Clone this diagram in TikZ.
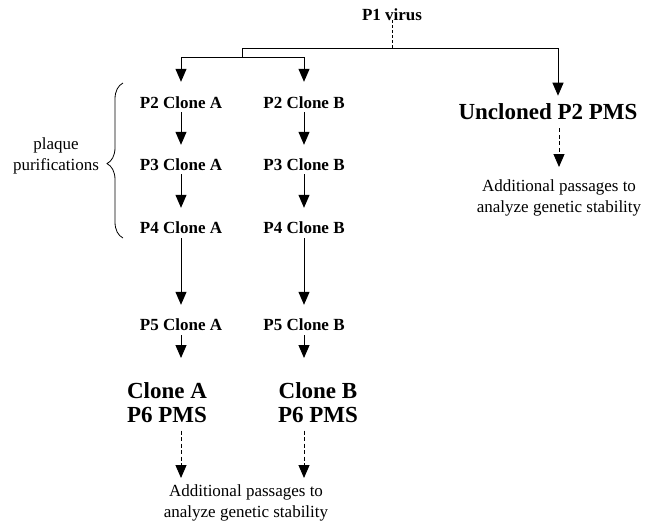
\documentclass[tikz,border=0pt]{standalone}
\usepackage{fontspec}
\setmainfont{Liberation Serif}
\usetikzlibrary{arrows.meta,decorations.pathreplacing,calc}
\begin{document}
\begin{tikzpicture}[x=1pt,y=-1pt,
 lbl/.style={font=\fontsize{17}{20}\selectfont\bfseries, inner sep=0pt, text height=12pt, text depth=0pt},
 big/.style={font=\fontsize{23}{24}\selectfont\bfseries, inner sep=0pt, align=center},
 note/.style={font=\fontsize{17}{21}\selectfont, inner sep=0pt, align=center},
 conn/.style={line width=1pt},
 arr/.style={conn, -{Triangle[width=11pt,length=13pt]}},
 darr/.style={arr, dash pattern=on 4pt off 2.5pt},
 bracestyle/.style={line width=0.8pt, decorate, decoration={brace, amplitude=16pt, aspect=0.48}}]
\useasboundingbox (0,0) rectangle (650,523);

% top
\node[lbl] (p1) at (392,14) {P1 virus};
\coordinate (j0) at (392,48);
\coordinate (jl) at (242,48);
\coordinate (jr) at (558,48);
\coordinate (jl2) at (242,57);
\coordinate (ja) at (181,57);
\coordinate (jb) at (304,57);

% clone columns
\node[lbl] (p2a) at (181,102) {P2 Clone A};
\node[lbl] (p2b) at (304,102) {P2 Clone B};
\node[lbl] (p3a) at (181,164) {P3 Clone A};
\node[lbl] (p3b) at (304,164) {P3 Clone B};
\node[lbl] (p4a) at (181,227) {P4 Clone A};
\node[lbl] (p4b) at (304,227) {P4 Clone B};
\node[lbl] (p5a) at (181,324) {P5 Clone A};
\node[lbl] (p5b) at (304,324) {P5 Clone B};
\node[big, anchor=north] (cla) at (167,382) {Clone A\\P6 PMS};
\node[big, anchor=north] (clb) at (318,382) {Clone B\\P6 PMS};
\node[note, anchor=north] (addl) at (246,484) {Additional passages to\\analyze genetic stability};

% uncloned
\node[big] (unc) at (548,112) {Uncloned P2 PMS};
\node[note, anchor=north] (addr) at (559,179) {Additional passages to\\analyze genetic stability};

% brace
\node[note] (plq) at (56,156) {plaque\\purifications};
\coordinate (brb) at (123,238);
\coordinate (brt) at (123,83);
\draw[bracestyle] (brb) -- (brt);

% connectors top
\draw[conn, line width=0.6pt, densely dashed] (p1.south) -- (j0);
\draw[conn] (jl) -- (jr);
\draw[conn] (jl) -- (jl2);
\draw[conn] (ja) -- (jb);
\draw[arr] (ja) -- ([yshift=14pt]p2a.north);
\draw[arr] (jb) -- ([yshift=14pt]p2b.north);
\draw[arr] (jr) -- ($(jr |- unc.north)+(0,-8)$);

% columns
\draw[arr] ([yshift=-4pt]p2a.south) -- ([yshift=13pt]p3a.north);
\draw[arr] ([yshift=-4pt]p2b.south) -- ([yshift=13pt]p3b.north);
\draw[arr] ([yshift=-4pt]p3a.south) -- ([yshift=13pt]p4a.north);
\draw[arr] ([yshift=-4pt]p3b.south) -- ([yshift=13pt]p4b.north);
\draw[arr] ([yshift=-5pt]p4a.south) -- ([yshift=13pt]p5a.north);
\draw[arr] ([yshift=-5pt]p4b.south) -- ([yshift=13pt]p5b.north);
\draw[arr] ([yshift=-5pt]p5a.south) -- ($(p5a.south |- cla.north)+(0,-24)$);
\draw[arr] ([yshift=-5pt]p5b.south) -- ($(p5b.south |- clb.north)+(0,-24)$);

% dashed
\draw[darr] ($(p5a.south |- cla.south)+(0,8)$) -- ($(p5a.south |- addl.north)+(0,-6)$);
\draw[darr] ($(p5b.south |- clb.south)+(0,8)$) -- ($(p5b.south |- addl.north)+(0,-6)$);
\draw[darr] ($(addr.north |- unc.south)+(0,8)$) -- ($(addr.north)+(0,-12)$);
\end{tikzpicture}
\end{document}
